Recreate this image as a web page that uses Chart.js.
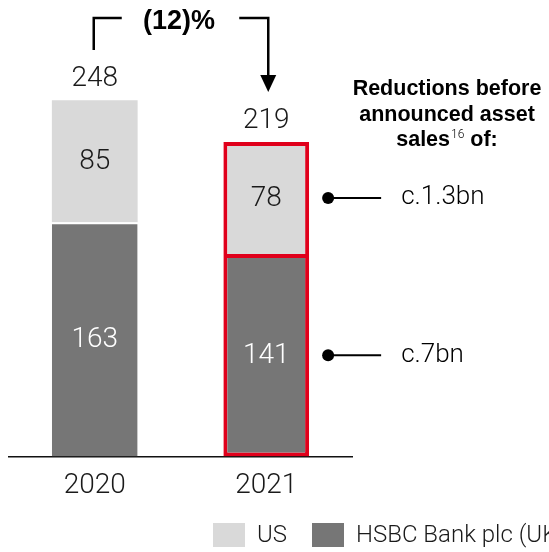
<!DOCTYPE html>
<html>
<head>
<meta charset="utf-8">
<script src="https://cdn.jsdelivr.net/npm/chart.js@4"></script>
<style>
  html, body { margin: 0; padding: 0; background: #fff; }
  #wrap { width: 549px; height: 552px; }
</style>
</head>
<body>
<div id="wrap"><canvas id="grafico"></canvas></div>
<script>
// anos e valores (US em cima, HSBC Bank plc em baixo)
const anos = ['2020', '2021'];
const valoresHsbc = [163, 141];
const valoresUs = [85, 78];
const reducoes = ['c.1.3bn', 'c.7bn']; // US, HSBC Bank plc
const legendaNomes = ['US', 'HSBC Bank plc (UK)'];

const corClara = '#d9d9d9';
const corEscura = '#767676';
const vermelho = '#e0001b';
const fonteLeve = 'Roboto';
const fonteForte = '"Liberation Sans"';

const totais = anos.map((a, i) => valoresHsbc[i] + valoresUs[i]);
const variacao = Math.round((totais[1] - totais[0]) / totais[0] * 100);

// rotulos, seta de variacao, notas da direita e legenda
const anotacoes = {
    id: 'anotacoes',
    afterDatasetsDraw(chart) {
        const ctx = chart.ctx;
        const barrasHsbc = chart.getDatasetMeta(0).data;
        const barrasUs = chart.getDatasetMeta(1).data;
        ctx.save();
        ctx.textAlign = 'center';
        ctx.textBaseline = 'middle';
        ctx.font = '300 28px ' + fonteLeve;

        for (let i = 0; i < anos.length; i++) {
            const b0 = barrasHsbc[i], b1 = barrasUs[i];
            ctx.fillStyle = '#ffffff';
            ctx.fillText(valoresHsbc[i], b0.x, (b0.y + b0.base) / 2 + 1);
            ctx.fillStyle = '#1a1a1a';
            ctx.fillText(valoresUs[i], b1.x, (b1.y + b1.base) / 2 + 1);
            ctx.fillText(totais[i], b1.x, b1.y - 21);
        }

        // colchete com seta entre os totais
        const xa = barrasUs[0].x - 1, xb = barrasUs[1].x + 2;
        const topo = 18;
        ctx.strokeStyle = '#000';
        ctx.lineWidth = 2.5;
        ctx.beginPath();
        ctx.moveTo(xa, 50); ctx.lineTo(xa, topo); ctx.lineTo(xa + 28, topo);
        ctx.moveTo(xb - 29, topo); ctx.lineTo(xb, topo); ctx.lineTo(xb, 78);
        ctx.stroke();
        ctx.fillStyle = '#000';
        ctx.beginPath();
        ctx.moveTo(xb - 8, 75); ctx.lineTo(xb + 8, 75); ctx.lineTo(xb, 92);
        ctx.closePath();
        ctx.fill();
        ctx.font = 'bold 27px ' + fonteForte;
        const txtVar = variacao < 0 ? '(' + Math.abs(variacao) + ')%' : variacao + '%';
        ctx.fillText(txtVar, (xa + xb) / 2 - 2, 22);

        // titulo das reducoes
        const cx = 447;
        const fonteTitulo = 'bold 21.5px ' + fonteForte;
        ctx.font = fonteTitulo;
        ctx.textBaseline = 'alphabetic';
        ctx.fillText('Reductions before', cx, 95);
        ctx.fillText('announced asset', cx, 121);
        const p1 = 'sales', p2 = '16', p3 = ' of:';
        const w1 = ctx.measureText(p1).width, w3 = ctx.measureText(p3).width;
        ctx.font = '300 12px ' + fonteLeve;
        const w2 = ctx.measureText(p2).width + 1;
        let x0 = cx - (w1 + w2 + w3) / 2;
        ctx.textAlign = 'left';
        ctx.font = fonteTitulo;
        ctx.fillText(p1, x0, 146);
        ctx.font = '300 12px ' + fonteLeve;
        ctx.fillText(p2, x0 + w1 + 1, 138);
        ctx.font = fonteTitulo;
        ctx.fillText(p3, x0 + w1 + w2, 146);

        // marcadores ligados a cada segmento de 2021
        const segs = [barrasUs[1], barrasHsbc[1]];
        ctx.textBaseline = 'middle';
        ctx.font = '300 26px ' + fonteLeve;
        segs.forEach((b, k) => {
            const y = (b.y + b.base) / 2;
            const xd = b.x + b.width / 2 + 19;
            ctx.beginPath();
            ctx.arc(xd, y, 6, 0, Math.PI * 2);
            ctx.fill();
            ctx.lineWidth = 2;
            ctx.beginPath();
            ctx.moveTo(xd, y); ctx.lineTo(xd + 53, y);
            ctx.stroke();
            ctx.fillText(reducoes[k], xd + 73, y);
        });

        // legenda
        const cores = [corClara, corEscura];
        const lx = [213, 312];
        ctx.font = '300 24px ' + fonteLeve;
        legendaNomes.forEach((nome, k) => {
            ctx.fillStyle = cores[k];
            ctx.fillRect(lx[k], 523, 32, 24);
            ctx.fillStyle = '#1a1a1a';
            ctx.fillText(nome, lx[k] + 44, 536);
        });
        ctx.restore();
    }
};

new Chart(document.getElementById('grafico'), {
    type: 'bar',
    data: {
        labels: anos,
        datasets: [{
            label: legendaNomes[1],
            data: valoresHsbc,
            backgroundColor: corEscura,
            borderColor: ['#ffffff', vermelho],
            borderWidth: [{ top: 2, left: 0, right: 0, bottom: 0 }, { top: 4, left: 4, right: 4, bottom: 4 }],
            borderSkipped: false,
            barPercentage: 1,
            categoryPercentage: 0.5
        }, {
            label: legendaNomes[0],
            data: valoresUs,
            backgroundColor: corClara,
            borderColor: ['#ffffff', vermelho],
            borderWidth: [0, { top: 4, left: 4, right: 4, bottom: 0 }],
            borderSkipped: false,
            barPercentage: 1,
            categoryPercentage: 0.5
        }]
    },
    options: {
        responsive: true,
        maintainAspectRatio: false,
        animation: false,
        layout: { padding: { top: 40, left: 9, right: 197, bottom: 36 } },
        plugins: {
            legend: { display: false },
            tooltip: { enabled: false }
        },
        scales: {
            x: {
                stacked: true,
                grid: { display: false, drawTicks: false },
                border: { display: true, color: '#111', width: 1.5 },
                ticks: { color: '#1a1a1a', padding: 13, font: { family: fonteLeve, weight: '300', size: 28 } }
            },
            y: {
                stacked: true,
                display: false,
                min: 0,
                max: 290
            }
        }
    },
    plugins: [anotacoes]
});
</script>
</body>
</html>
